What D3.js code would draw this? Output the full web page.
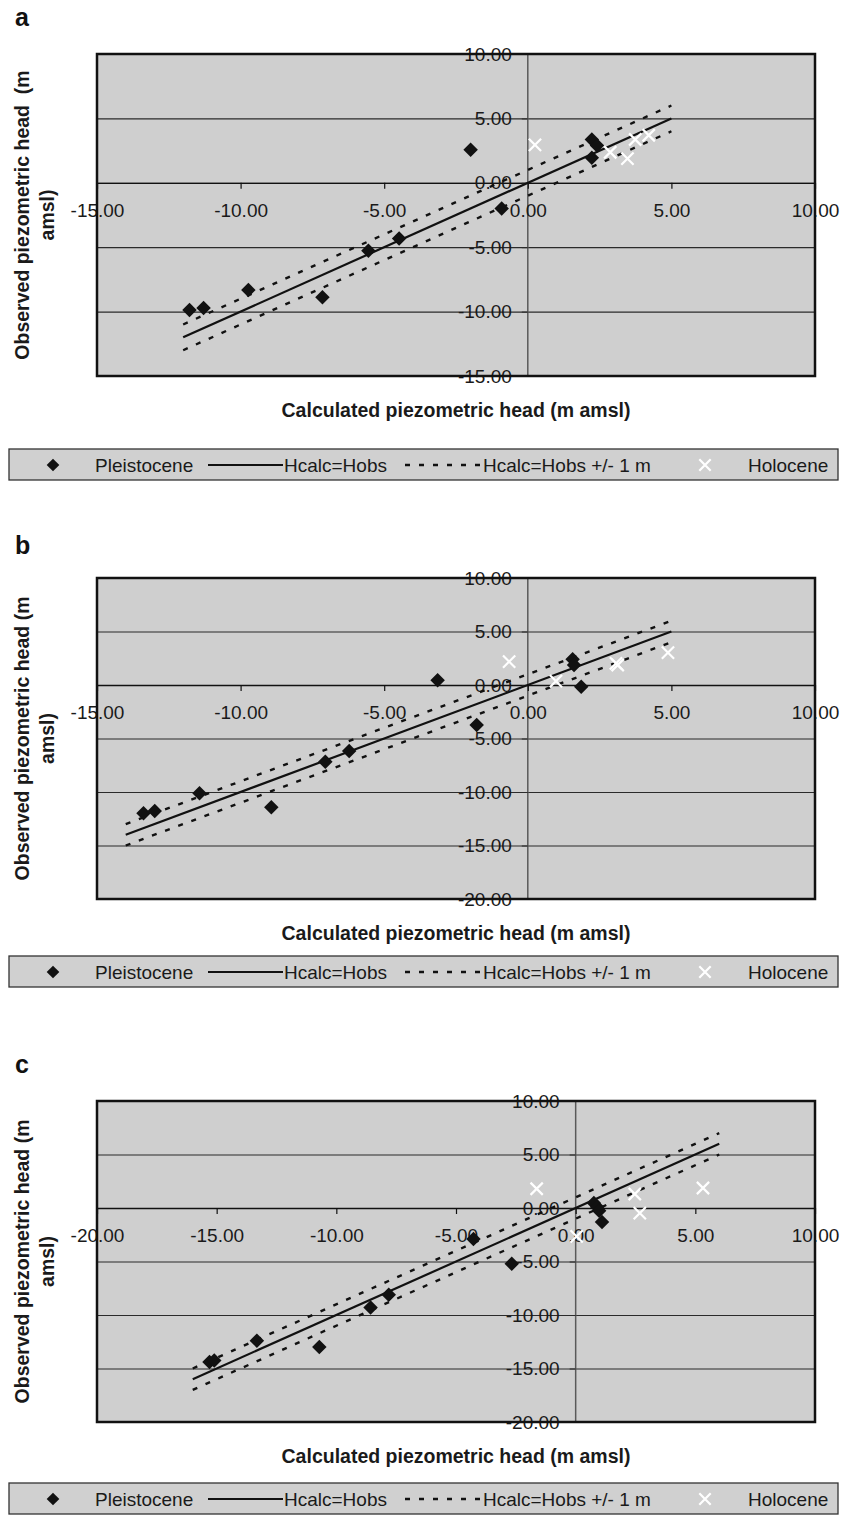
<!DOCTYPE html>
<html>
<head>
<meta charset="utf-8">
<script src="https://cdn.jsdelivr.net/npm/d3@7"></script>
<style>
  body { margin: 0; background: #fff; }
  text { font-family: "Liberation Sans", Arial, sans-serif; }
</style>
</head>
<body>
<div id="chart"></div>
<script>
// panel a
const pleistoA = [[-11.78,-9.88],[-11.29,-9.72],[-9.73,-8.33],[-7.15,-8.89],[-5.55,-5.27],[-4.48,-4.32],
  [-1.99,2.56],[-0.91,-1.99],[2.23,3.36],[2.41,2.89],[2.23,1.94]];
const holoA = [[0.25,2.95],[2.87,2.37],[3.47,1.88],[3.74,3.36],[4.21,3.69]];
const fitA = [-12, 5];
const xTicksA = [-15, -10, -5, 0, 5, 10];
const yTicksA = [-15, -10, -5, 0, 5, 10];

// panel b
const pleistoB = [[-13.38,-11.99],[-12.99,-11.78],[-11.43,-10.12],[-8.93,-11.43],[-7.05,-7.17],[-6.22,-6.17],
  [-3.14,0.44],[-1.78,-3.74],[1.56,2.40],[1.61,1.87],[1.86,-0.16]];
const holoB = [[-0.65,2.18],[0.98,0.37],[3.07,2.03],[3.13,1.87],[4.88,3.02]];
const fitB = [-14, 5];
const xTicksB = [-15, -10, -5, 0, 5, 10];
const yTicksB = [-20, -15, -10, -5, 0, 5, 10];

// panel c
const pleistoC = [[-15.3,-14.4],[-15.1,-14.25],[-13.32,-12.40],[-10.71,-12.99],[-8.57,-9.29],[-7.81,-8.10],
  [-4.27,-2.90],[-2.67,-5.21],[0.76,0.47],[0.9,0.1],[0.98,-0.25],[1.10,-1.31]];
const holoC = [[-1.63,1.80],[0.04,-2.65],[2.47,1.31],[2.68,-0.47],[5.32,1.87]];
const fitC = [-16, 6];
const xTicksC = [-20, -15, -10, -5, 0, 5, 10];
const yTicksC = [-20, -15, -10, -5, 0, 5, 10];

const legendItems = ['Pleistocene', 'Hcalc=Hobs', 'Hcalc=Hobs +/- 1 m', 'Holocene'];

const panels = [
  {label: 'a', labelY: 26, top: 54, height: 322, x: [-15, 10], y: [-15, 10], xTicks: xTicksA, yTicks: yTicksA,
   fit: fitA, pleisto: pleistoA, holo: holoA, yTitle: 'Observed piezometric head  (m', legendTop: 449},
  {label: 'b', labelY: 554, top: 578, height: 321, x: [-15, 10], y: [-20, 10], xTicks: xTicksB, yTicks: yTicksB,
   fit: fitB, pleisto: pleistoB, holo: holoB, yTitle: 'Observed piezometric head (m', legendTop: 956},
  {label: 'c', labelY: 1073, top: 1101, height: 321, x: [-20, 10], y: [-20, 10], xTicks: xTicksC, yTicks: yTicksC,
   fit: fitC, pleisto: pleistoC, holo: holoC, yTitle: 'Observed piezometric head (m', legendTop: 1483}
];

const left = 97, right = 815;
const font = '"Liberation Sans", Arial, sans-serif';
const fmt = d3.formatLocale({decimal: '.', thousands: ',', grouping: [3], currency: ['', ''], minus: '-'}).format('.2f');

// rotated square and a plain x, sized by full width
const diamond = {
  draw(ctx, size) {
    const r = Math.sqrt(size) / 2;
    ctx.moveTo(0, -r); ctx.lineTo(r, 0); ctx.lineTo(0, r); ctx.lineTo(-r, 0); ctx.closePath();
  }
};
const cross = {
  draw(ctx, size) {
    const r = Math.sqrt(size) / 2;
    ctx.moveTo(-r, -r); ctx.lineTo(r, r); ctx.moveTo(-r, r); ctx.lineTo(r, -r);
  }
};

const svg = d3.select('#chart').append('svg')
    .attr('width', 842)
    .attr('height', 1524);

function drawPanel(p) {
  const g = svg.append('g');
  const bottom = p.top + p.height;

  const x = d3.scaleLinear().domain(p.x).range([left, right]);
  const y = d3.scaleLinear().domain(p.y).range([bottom, p.top]);

  g.append('rect')
      .attr('x', left).attr('y', p.top)
      .attr('width', right - left).attr('height', p.height)
      .attr('fill', '#cfcfcf');

  // gridlines
  g.append('g')
      .attr('transform', `translate(${left},0)`)
      .call(d3.axisLeft(y).tickValues(p.yTicks).tickSize(-(right - left)).tickFormat(''))
      .call(s => s.select('.domain').remove())
      .call(s => s.selectAll('line').attr('stroke', '#2b2b2b').attr('stroke-width', 1.2));

  // vertical axis line
  g.append('line')
      .attr('x1', x(0)).attr('x2', x(0))
      .attr('y1', p.top).attr('y2', bottom)
      .attr('stroke', '#5a5a5a').attr('stroke-width', 1.5);

  // x axis through y = 0
  g.append('g')
      .attr('transform', `translate(0,${y(0)})`)
      .call(d3.axisBottom(x).tickValues(p.xTicks).tickSize(6).tickSizeOuter(0).tickPadding(15).tickFormat(fmt))
      .attr('font-family', font).attr('font-size', 19)
      .call(s => s.select('.domain').attr('stroke', '#111').attr('stroke-width', 1.3))
      .call(s => s.selectAll('line').attr('stroke', '#111').attr('stroke-width', 1.2))
      .call(s => s.selectAll('text').attr('fill', '#1a1a1a'));

  // y axis through x = 0
  g.append('g')
      .attr('transform', `translate(${x(0)},0)`)
      .call(d3.axisLeft(y).tickValues(p.yTicks).tickSize(6).tickSizeOuter(0).tickPadding(10).tickFormat(fmt))
      .attr('font-family', font).attr('font-size', 19)
      .call(s => s.select('.domain').remove())
      .call(s => s.selectAll('line').attr('stroke', '#2b2b2b'))
      .call(s => s.selectAll('text').attr('fill', '#1a1a1a'));

  // 1:1 line and +/- 1 m
  const line = d3.line().x(d => x(d[0])).y(d => y(d[1]));
  [-1, 1].forEach(off => {
    g.append('path')
        .attr('d', line(p.fit.map(v => [v, v + off])))
        .attr('fill', 'none').attr('stroke', '#111')
        .attr('stroke-width', 2.4).attr('stroke-dasharray', '5,9');
  });
  g.append('path')
      .attr('d', line(p.fit.map(v => [v, v])))
      .attr('fill', 'none').attr('stroke', '#111').attr('stroke-width', 2.2);

  // points
  g.append('g').selectAll('path')
    .data(p.pleisto)
    .join('path')
      .attr('transform', d => `translate(${x(d[0])},${y(d[1])})`)
      .attr('d', d3.symbol().type(diamond).size(210))
      .attr('fill', '#111');

  g.append('g').selectAll('path')
    .data(p.holo)
    .join('path')
      .attr('transform', d => `translate(${x(d[0])},${y(d[1])})`)
      .attr('d', d3.symbol().type(cross).size(150))
      .attr('fill', 'none').attr('stroke', '#fff').attr('stroke-width', 2.2);

  // frame
  g.append('rect')
      .attr('x', left).attr('y', p.top)
      .attr('width', right - left).attr('height', p.height)
      .attr('fill', 'none').attr('stroke', '#111').attr('stroke-width', 2.5);

  // titles
  g.append('text')
      .attr('x', 15).attr('y', p.labelY)
      .attr('font-size', 25).attr('font-weight', 'bold').attr('fill', '#111')
      .text(p.label);

  g.append('text')
      .attr('x', (left + right) / 2).attr('y', bottom + 41)
      .attr('text-anchor', 'middle')
      .attr('font-size', 19.5).attr('font-weight', 'bold').attr('fill', '#1a1a1a')
      .text('Calculated piezometric head (m amsl)');

  const mid = (p.top + bottom) / 2;
  [[22, p.yTitle], [47, 'amsl)']].forEach(([tx, t]) => {
    g.append('text')
        .attr('transform', `translate(${tx},${mid}) rotate(-90)`)
        .attr('text-anchor', 'middle').attr('dominant-baseline', 'central')
        .style('white-space', 'pre')
        .attr('font-size', 19.5).attr('font-weight', 'bold').attr('fill', '#1a1a1a')
        .text(t);
  });

  // legend
  const lg = g.append('g').attr('transform', `translate(0,${p.legendTop})`);
  lg.append('rect')
      .attr('x', 9).attr('y', 0).attr('width', 829).attr('height', 31)
      .attr('fill', '#d0d0d0').attr('stroke', '#333').attr('stroke-width', 1.3);
  lg.append('path')
      .attr('transform', 'translate(53,16)')
      .attr('d', d3.symbol().type(diamond).size(160))
      .attr('fill', '#111');
  lg.append('line')
      .attr('x1', 208).attr('x2', 283).attr('y1', 16).attr('y2', 16)
      .attr('stroke', '#111').attr('stroke-width', 2.2);
  lg.append('line')
      .attr('x1', 405).attr('x2', 482).attr('y1', 16).attr('y2', 16)
      .attr('stroke', '#111').attr('stroke-width', 2.4).attr('stroke-dasharray', '5,9');
  lg.append('path')
      .attr('transform', 'translate(705,16)')
      .attr('d', d3.symbol().type(cross).size(130))
      .attr('fill', 'none').attr('stroke', '#fff').attr('stroke-width', 2.2);
  lg.selectAll('text')
    .data(legendItems)
    .join('text')
      .attr('x', (d, i) => [95, 284, 483, 748][i])
      .attr('y', 23)
      .attr('font-size', 19).attr('fill', '#1a1a1a')
      .text(d => d);
}

panels.forEach(drawPanel);
</script>
</body>
</html>
